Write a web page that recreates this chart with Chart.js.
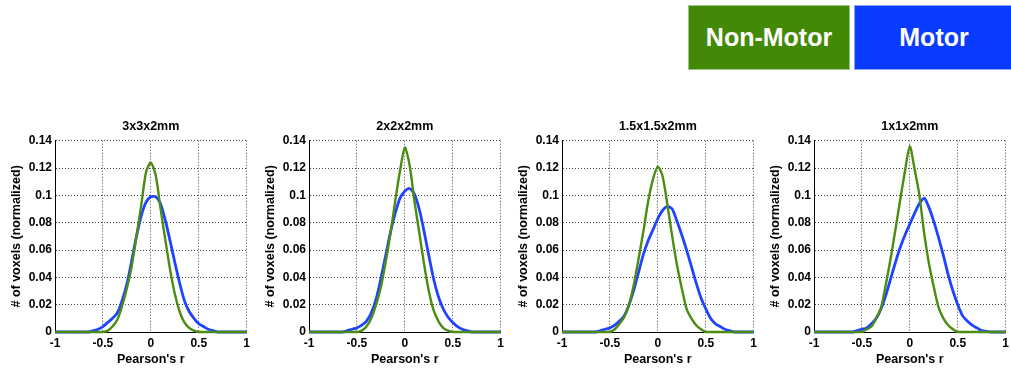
<!DOCTYPE html>
<html>
<head>
<meta charset="utf-8">
<script src="https://cdn.jsdelivr.net/npm/chart.js@4"></script>
<style>
  html, body { margin: 0; padding: 0; background: #fff; width: 1011px; height: 372px; overflow: hidden; }
  body { position: relative; font-family: 'Liberation Sans', Arial, sans-serif; }
  .key { position: absolute; top: 5px; height: 65px; color: #fff; font-weight: bold; font-size: 25px;
         display: flex; align-items: center; justify-content: center; box-sizing: border-box; }
  #key-non { left: 688px; width: 162px; background: #428a06; border: 1px solid #9cc48a; }
  #key-mot { left: 854px; width: 160px; background: #0a3cff; border: 1px solid #8fa2ff; }
  canvas { position: absolute; top: 112px; }
</style>
</head>
<body>
  <div class="key" id="key-non">Non-Motor</div>
  <div class="key" id="key-mot">Motor</div>
  <canvas id="c0" width="254" height="260" style="left:0px"></canvas>
  <canvas id="c1" width="254" height="260" style="left:254px"></canvas>
  <canvas id="c2" width="254" height="260" style="left:507px"></canvas>
  <canvas id="c3" width="254" height="260" style="left:759px"></canvas>
<script>
// ---- data ----
const panelTitles = ['3x3x2mm', '2x2x2mm', '1.5x1.5x2mm', '1x1x2mm'];
const xTicks = [-1, -0.5, 0, 0.5, 1];
const xTickLabels = ['-1', '-0.5', '0', '0.5', '1'];
const yTicks = [0, 0.02, 0.04, 0.06, 0.08, 0.1, 0.12, 0.14];
const yTickLabels = ['0', '0.02', '0.04', '0.06', '0.08', '0.1', '0.12', '0.14'];

const rValues = [-1, -0.95, -0.9, -0.85, -0.8, -0.75, -0.7, -0.65, -0.6, -0.55,
  -0.5, -0.45, -0.4, -0.35, -0.3, -0.25, -0.2, -0.15, -0.1, -0.05,
  0, 0.05, 0.1, 0.15, 0.2, 0.25, 0.3, 0.35, 0.4, 0.45,
  0.5, 0.55, 0.6, 0.65, 0.7, 0.75, 0.8, 0.85, 0.9, 0.95, 1];

const nonMotor3 = [0, 0, 0, 0, 0, 0, 0, 0, 0, 0,
  0, 0.001, 0.004, 0.009, 0.019, 0.032, 0.048, 0.070, 0.093, 0.117,
  0.124, 0.115, 0.091, 0.068, 0.046, 0.028, 0.015, 0.007, 0.003, 0.001,
  0, 0, 0, 0, 0, 0, 0, 0, 0, 0, 0];
const motor3 = [0, 0, 0, 0, 0, 0, 0, 0, 0.001, 0.002,
  0.004, 0.007, 0.010, 0.014, 0.023, 0.035, 0.052, 0.070, 0.085, 0.095,
  0.099, 0.099, 0.094, 0.082, 0.067, 0.051, 0.036, 0.023, 0.015, 0.010,
  0.006, 0.004, 0.002, 0.001, 0, 0, 0, 0, 0, 0, 0];

const nonMotor2 = [0, 0, 0, 0, 0, 0, 0, 0, 0, 0,
  0, 0.001, 0.004, 0.010, 0.020, 0.033, 0.051, 0.072, 0.096, 0.118,
  0.135, 0.122, 0.096, 0.073, 0.050, 0.030, 0.016, 0.008, 0.003, 0.001,
  0, 0, 0, 0, 0, 0, 0, 0, 0, 0, 0];
const motor2 = [0, 0, 0, 0, 0, 0, 0, 0, 0.001, 0.002,
  0.003, 0.005, 0.008, 0.014, 0.024, 0.039, 0.056, 0.073, 0.087, 0.098,
  0.103, 0.105, 0.101, 0.090, 0.074, 0.056, 0.039, 0.026, 0.017, 0.011,
  0.007, 0.004, 0.002, 0.001, 0, 0, 0, 0, 0, 0, 0];

const nonMotor15 = [0, 0, 0, 0, 0, 0, 0, 0, 0, 0,
  0, 0.002, 0.006, 0.011, 0.020, 0.035, 0.054, 0.074, 0.096, 0.112,
  0.121, 0.114, 0.093, 0.070, 0.049, 0.032, 0.017, 0.010, 0.005, 0.002,
  0, 0, 0, 0, 0, 0, 0, 0, 0, 0, 0];
const motor15 = [0, 0, 0, 0, 0, 0, 0, 0, 0.001, 0.002,
  0.003, 0.005, 0.008, 0.012, 0.020, 0.031, 0.044, 0.057, 0.067, 0.075,
  0.083, 0.089, 0.092, 0.090, 0.081, 0.071, 0.060, 0.048, 0.036, 0.025,
  0.017, 0.010, 0.006, 0.004, 0.002, 0.001, 0, 0, 0, 0, 0];

const nonMotor1 = [0, 0, 0, 0, 0, 0, 0, 0, 0, 0,
  0, 0.002, 0.004, 0.010, 0.018, 0.035, 0.054, 0.075, 0.097, 0.118,
  0.136, 0.119, 0.100, 0.072, 0.050, 0.033, 0.018, 0.010, 0.005, 0.002,
  0, 0, 0, 0, 0, 0, 0, 0, 0, 0, 0];
const motor1 = [0, 0, 0, 0, 0, 0, 0, 0, 0, 0.001,
  0.002, 0.003, 0.006, 0.010, 0.017, 0.027, 0.039, 0.051, 0.062, 0.071,
  0.079, 0.087, 0.094, 0.098, 0.091, 0.081, 0.069, 0.056, 0.042, 0.030,
  0.020, 0.012, 0.008, 0.005, 0.003, 0.001, 0.0005, 0, 0, 0, 0];

const nonMotorSeries = [nonMotor3, nonMotor2, nonMotor15, nonMotor1];
const motorSeries = [motor3, motor2, motor15, motor1];

// ---- styling ----
Chart.defaults.font.family = "'Liberation Sans', Arial, sans-serif";
Chart.defaults.color = '#000';

const green = '#4b8c12';
const blue = '#1f44ff';
const tickFont = { size: 12, weight: 'bold' };
const labelFont = { size: 12.5, weight: 'bold' };

const toPoints = ys => ys.map((y, i) => ({ x: rValues[i], y }));

panelTitles.forEach((title, p) => {
  new Chart(document.getElementById('c' + p), {
    type: 'line',
    data: {
      datasets: [
        { label: 'Non-Motor', data: toPoints(nonMotorSeries[p]), borderColor: green, borderWidth: 2.4 },
        { label: 'Motor', data: toPoints(motorSeries[p]), borderColor: blue, borderWidth: 2.8 },
      ]
    },
    options: {
      responsive: false,
      devicePixelRatio: 1,
      animation: false,
      layout: { padding: { left: 0, right: 6, top: 0, bottom: 0 } },
      elements: { point: { radius: 0 }, line: { tension: 0.25, capBezierPoints: true } },
      datasets: { line: { clip: 4 } },
      plugins: {
        legend: { display: false },
        tooltip: { enabled: false },
        title: {
          display: true, text: title, fullSize: false,
          font: labelFont,
          padding: { top: 7, bottom: 6.7 }
        }
      },
      scales: {
        x: {
          type: 'linear', min: -1, max: 1,
          afterBuildTicks: s => { s.ticks = xTicks.map(v => ({ value: v })); },
          afterFit: s => { s.height = 40; },
          ticks: { font: tickFont, padding: 4, maxRotation: 0, callback: (v, i) => xTickLabels[i] },
          grid: { color: '#444', lineWidth: 1, drawTicks: false },
          // in v4 border.dash styles the grid lines; the axis line itself stays solid
          border: { display: true, color: '#000', width: 1, dash: [1, 2] },
          title: { display: true, text: "Pearson's r", font: labelFont, padding: { top: 0, bottom: 4.5 } }
        },
        y: {
          min: 0, max: 0.14,
          afterBuildTicks: s => { s.ticks = yTicks.map(v => ({ value: v })); },
          afterFit: s => { s.width = 55; },
          ticks: { font: tickFont, padding: 3, callback: (v, i) => yTickLabels[i] },
          grid: { color: '#444', lineWidth: 1, drawTicks: false },
          border: { display: true, color: '#000', width: 1, dash: [1, 2] },
          title: { display: true, text: '# of voxels (normalized)', font: labelFont, padding: { top: 9.5, bottom: 0 } }
        }
      }
    }
  });
});
</script>
</body>
</html>
